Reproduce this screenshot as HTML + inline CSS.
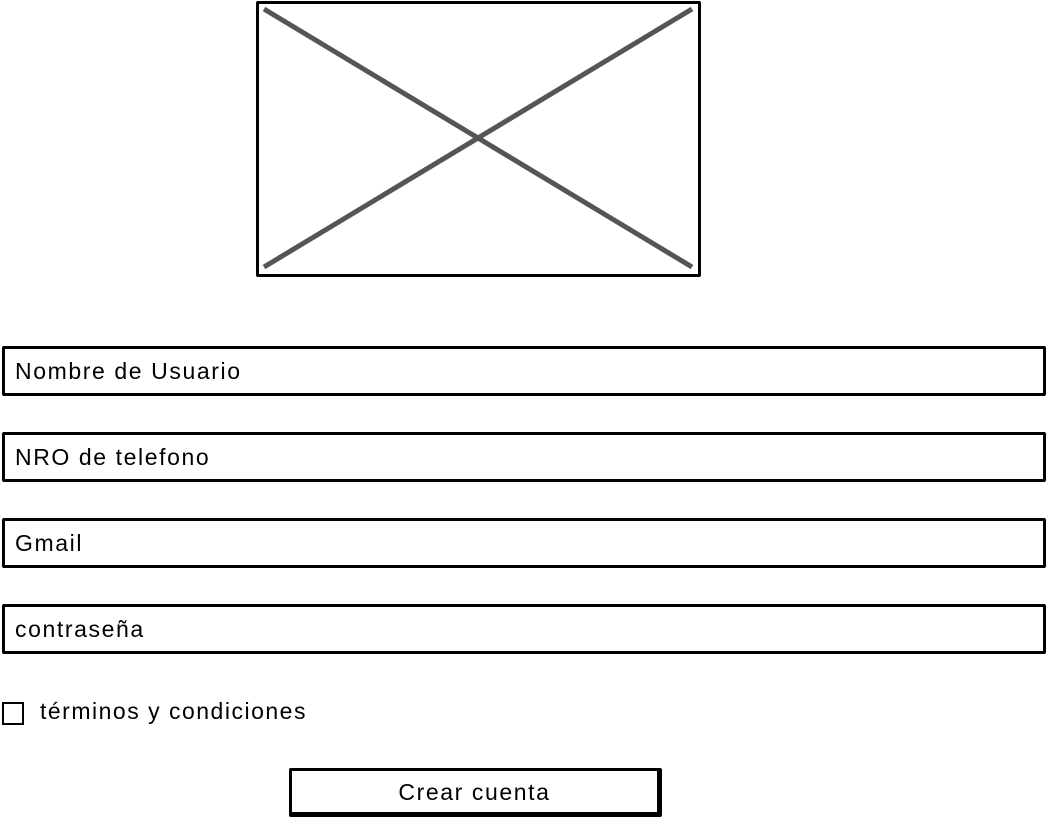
<!DOCTYPE html>
<html><head><meta charset="utf-8"><style>
body{margin:0;width:1048px;height:820px;background:#fff;position:relative;overflow:hidden;font-family:"Liberation Sans",sans-serif;color:#000}
.box{position:absolute;box-sizing:border-box;border:3px solid #000;border-radius:2px;background:#fff}
.inp{left:2px;width:1044px;height:50px;font-size:23px;letter-spacing:1.6px;line-height:44px;padding-left:10px}
.lbl{position:absolute;font-size:23px;letter-spacing:1.5px}
</style></head><body>
<div class="box" style="left:256px;top:1px;width:445px;height:276px">
<svg width="439" height="270" style="position:absolute;left:0;top:0"><line x1="5" y1="5" x2="433" y2="263" stroke="#555" stroke-width="5"/><line x1="5" y1="263" x2="433" y2="5" stroke="#555" stroke-width="5"/></svg>
</div>
<div class="box inp" style="top:346px">Nombre de Usuario</div>
<div class="box inp" style="top:432px">NRO de telefono</div>
<div class="box inp" style="top:518px">Gmail</div>
<div class="box inp" style="top:604px">contraseña</div>
<div class="box" style="left:2px;top:702px;width:22px;height:23px;border-width:2px;border-radius:0"></div>
<div class="lbl" style="left:40px;top:698px">términos y condiciones</div>
<div class="box" style="left:289px;top:768px;width:373px;height:49px;border-width:3px 5px 5px 3px;text-align:center;font-size:23px;letter-spacing:1.6px;line-height:42px">Crear cuenta</div>
</body></html>
